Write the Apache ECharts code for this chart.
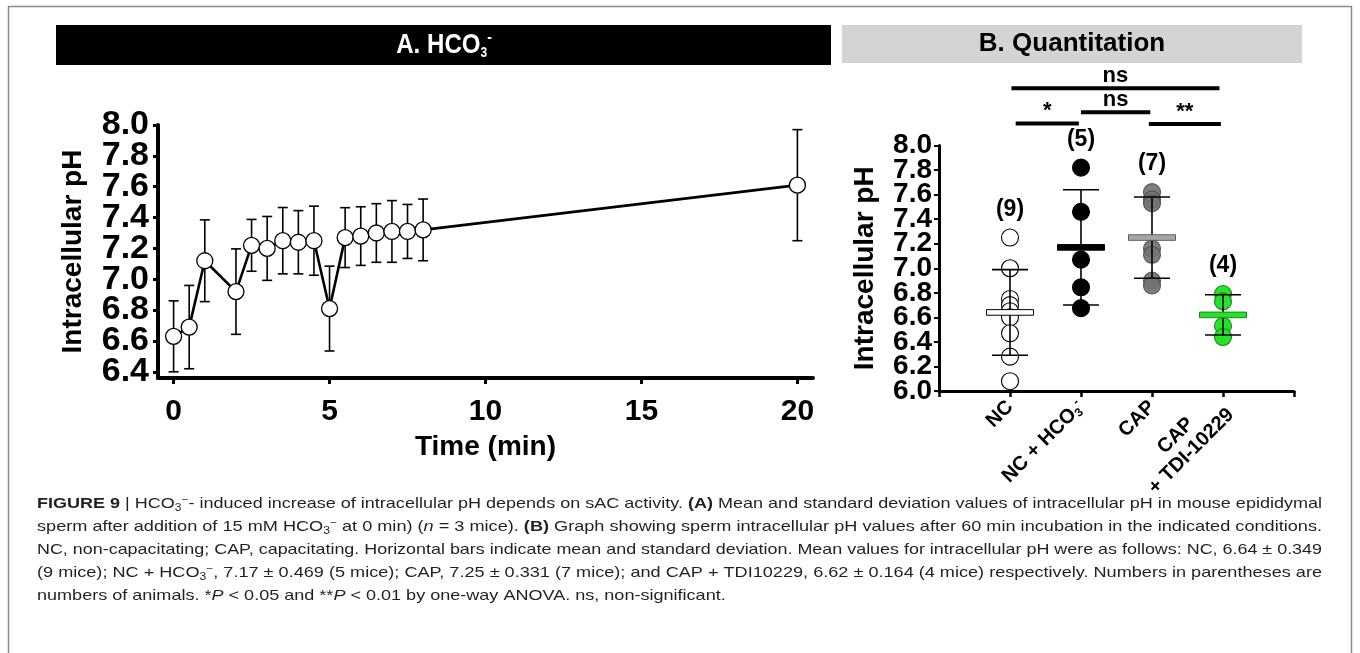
<!DOCTYPE html>
<html><head><meta charset="utf-8">
<script src="https://cdn.jsdelivr.net/npm/echarts@6/dist/echarts.min.js"></script>
<style>html,body{margin:0;padding:0;background:#fff}#c{width:1360px;height:653px}</style>
</head><body><div id="c"></div>
<script>
// ---------- Panel A data ----------
const timeMin = [0, 0.5, 1, 2, 2.5, 3, 3.5, 4, 4.5, 5, 5.5, 6, 6.5, 7, 7.5, 8, 20];
const meanPH  = [6.63, 6.69, 7.12, 6.92, 7.22, 7.20, 7.25, 7.24, 7.25, 6.81, 7.27, 7.28, 7.30, 7.31, 7.31, 7.32, 7.61];
const sdPH    = [0.23, 0.27, 0.265, 0.277, 0.168, 0.207, 0.215, 0.205, 0.224, 0.275, 0.194, 0.19, 0.19, 0.2, 0.175, 0.2, 0.36];
const leftYTicks = [6.4, 6.6, 6.8, 7.0, 7.2, 7.4, 7.6, 7.8, 8.0];
const leftXTicks = [0, 5, 10, 15, 20];

// ---------- Panel B data ----------
const groups = ['NC', 'NC + HCO3-', 'CAP', 'CAP\n+ TDI-10229'];
const ncValues   = [7.25, 7.0, 6.75, 6.7, 6.65, 6.6, 6.47, 6.28, 6.08];
const hco3Values = [7.82, 7.46, 7.07, 6.845, 6.675];
const capValues  = [7.62, 7.56, 7.53, 7.16, 7.11, 6.90, 6.86];
const tdiValues  = [6.79, 6.73, 6.53, 6.44];
const groupMeans  = [6.64, 7.17, 7.25, 6.62];
const groupSDs    = [0.349, 0.469, 0.331, 0.164];
const groupCounts = [9, 5, 7, 4];
const rightYTicks = [6.0, 6.2, 6.4, 6.6, 6.8, 7.0, 7.2, 7.4, 7.6, 7.8, 8.0];

// significance brackets (category units / pH units above the axis)
const bracketStart = [0.02, 1.0, 0.08, 1.955];
const bracketEnd   = [2.95, 1.976, 0.97, 2.97];
const bracketLevel = [8.466, 8.27, 8.18, 8.175];
const bracketText  = ['ns', 'ns', '*', '**'];

const FONT = '"Liberation Sans", Arial, Helvetica, sans-serif';
const groupValues = [ncValues, hco3Values, capValues, tdiValues];
const ptFill   = ['#ffffff', '#000000', '#737373', '#22e622'];
const ptStroke = ['#000000', '#000000', '#4d4d4d', '#2f7a2f'];
const barFill  = ['#ffffff', '#000000', '#a6a6a6', '#22e622'];
const barStroke= ['#000000', '#000000', '#5f5f5f', '#2f7a2f'];

const chart = echarts.init(document.getElementById('c'), null, {renderer: 'canvas'});

function errRender(capHalf, lw) {
  return function (params, api) {
    const x = api.value(0), m = api.value(1), s = api.value(2);
    const t = api.coord([x, m + s]), b = api.coord([x, m - s]);
    const st = {stroke: '#000', lineWidth: lw};
    return {type: 'group', children: [
      {type: 'line', shape: {x1: t[0], y1: t[1], x2: b[0], y2: b[1]}, style: st},
      {type: 'line', shape: {x1: t[0] - capHalf, y1: t[1], x2: t[0] + capHalf, y2: t[1]}, style: st},
      {type: 'line', shape: {x1: b[0] - capHalf, y1: b[1], x2: b[0] + capHalf, y2: b[1]}, style: st}
    ]};
  };
}

const series = [];
// Panel A
series.push({
  type: 'custom', xAxisIndex: 0, yAxisIndex: 0, z: 2,
  data: timeMin.map((t, i) => [t, meanPH[i], sdPH[i]]),
  encode: {x: 0, y: 1},
  renderItem: errRender(5, 1.6)
});
series.push({
  type: 'line', xAxisIndex: 0, yAxisIndex: 0, z: 3,
  data: timeMin.map((t, i) => [t, meanPH[i]]),
  symbol: 'circle', symbolSize: 16,
  itemStyle: {color: '#fff', borderColor: '#000', borderWidth: 1.3},
  lineStyle: {color: '#000', width: 2.6}
});
// Panel B points
groupValues.forEach((vals, g) => {
  series.push({
    type: 'scatter', xAxisIndex: 1, yAxisIndex: 1, z: 2,
    data: vals.map(v => [g, v]),
    symbol: 'circle', symbolSize: 17,
    itemStyle: {color: ptFill[g], borderColor: ptStroke[g], borderWidth: 1.1, opacity: g === 2 ? 0.92 : 1}
  });
});
// SD bars
series.push({
  type: 'custom', xAxisIndex: 1, yAxisIndex: 1, z: 3,
  data: groupMeans.map((m, i) => [i, m, groupSDs[i]]),
  encode: {x: 0, y: 1},
  renderItem: errRender(18, 1.6)
});
// mean bars
series.push({
  type: 'custom', xAxisIndex: 1, yAxisIndex: 1, z: 4,
  data: groupMeans.map((m, i) => [i, m]),
  encode: {x: 0, y: 1},
  renderItem: function (params, api) {
    const i = params.dataIndex;
    const c = api.coord([api.value(0), api.value(1)]);
    return {type: 'rect', shape: {x: c[0] - 23.5, y: c[1] - 2.8, width: 47, height: 5.6},
      style: {fill: barFill[i], stroke: barStroke[i], lineWidth: 1}};
  }
});
// counts
series.push({
  type: 'custom', xAxisIndex: 1, yAxisIndex: 1, z: 5, clip: false,
  data: groupValues.map((vals, i) => [i, Math.max(...vals), groupCounts[i]]),
  encode: {x: 0, y: 1},
  renderItem: function (params, api) {
    const c = api.coord([api.value(0), api.value(1)]);
    return {type: 'text', x: c[0], y: c[1] - 28,
      style: {text: '(' + api.value(2) + ')', font: 'bold 23px ' + FONT, fill: '#000', align: 'center', verticalAlign: 'middle'}};
  }
});
// brackets
series.push({
  type: 'custom', xAxisIndex: 2, yAxisIndex: 4, z: 5, clip: false,
  data: bracketStart.map((s, i) => [s, bracketEnd[i], bracketLevel[i]]),
  encode: {x: [0, 1], y: 2},
  renderItem: function (params, api) {
    const i = params.dataIndex;
    const p1 = api.coord([api.value(0), api.value(2)]);
    const p2 = api.coord([api.value(1), api.value(2)]);
    return {type: 'group', children: [
      {type: 'line', shape: {x1: p1[0], y1: p1[1], x2: p2[0], y2: p2[1]}, style: {stroke: '#000', lineWidth: 4}},
      {type: 'text', x: (p1[0] + p2[0]) / 2, y: p1[1] - 1,
        style: {text: bracketText[i], font: 'bold 22px ' + FONT, fill: '#000', align: 'center', verticalAlign: 'bottom'}}
    ]};
  }
});

// ---------- caption ----------
const captionLines = [
  [['b', 'FIGURE 9'], ['n', ' | HCO'], ['sub', '3'], ['sup', '−'], ['n', '- induced increase of intracellular pH depends on sAC activity. '], ['b', '(A)'], ['n', ' Mean and standard deviation values of intracellular pH in mouse epididymal']],
  [['n', 'sperm after addition of 15 mM HCO'], ['sub', '3'], ['sup', '−'], ['n', ' at 0 min) ('], ['i', 'n'], ['n', ' = 3 mice). '], ['b', '(B)'], ['n', ' Graph showing sperm intracellular pH values after 60 min incubation in the indicated conditions.']],
  [['n', 'NC, non-capacitating; CAP, capacitating. Horizontal bars indicate mean and standard deviation. Mean values for intracellular pH were as follows: NC, 6.64 ± 0.349']],
  [['n', '(9 mice); NC + HCO'], ['sub', '3'], ['sup', '−'], ['n', ', 7.17 ± 0.469 (5 mice); CAP, 7.25 ± 0.331 (7 mice); and CAP + TDI10229, 6.62 ± 0.164 (4 mice) respectively. Numbers in parentheses are']],
  [['n', 'numbers of animals. *'], ['i', 'P'], ['n', ' < 0.05 and **'], ['i', 'P'], ['n', ' < 0.01 by one-way ANOVA. ns, non-significant.']]
];
const capColor = '#231f20';
const capSize = 15, capSub = 10;
const capRich = {
  n: {fontSize: capSize, fontFamily: FONT, fill: capColor, lineHeight: 18},
  b: {fontSize: capSize, fontFamily: FONT, fill: capColor, fontWeight: 'bold', lineHeight: 18},
  i: {fontSize: capSize, fontFamily: FONT, fill: capColor, fontStyle: 'italic', lineHeight: 18},
  sub: {fontSize: capSub, fontFamily: FONT, fill: capColor, verticalAlign: 'bottom', lineHeight: 11},
  sup: {fontSize: capSub, fontFamily: FONT, fill: capColor, verticalAlign: 'top', lineHeight: 11}
};
const mctx = document.createElement('canvas').getContext('2d');
function fragFont(k) {
  if (k === 'b') return 'bold ' + capSize + 'px ' + FONT;
  if (k === 'i') return 'italic ' + capSize + 'px ' + FONT;
  if (k === 'sub' || k === 'sup') return capSub + 'px ' + FONT;
  return capSize + 'px ' + FONT;
}
const capLeft = 37, capRight = 1322, capTop = 504, capStep = 23;
const widths = captionLines.map(line => line.reduce((s, f) => { mctx.font = fragFont(f[0]); return s + mctx.measureText(f[1]).width; }, 0));
const scales = widths.map(w => (capRight - capLeft) / w);
const avgScale = scales.slice(0, 4).reduce((a, b) => a + b, 0) / 4;
const capGraphics = captionLines.map((line, li) => ({
  type: 'text', x: capLeft, y: capTop + li * capStep,
  scaleX: li < 4 ? scales[li] : avgScale,
  style: {
    text: line.map(f => '{' + f[0] + '|' + f[1] + '}').join(''),
    rich: capRich, verticalAlign: 'middle', align: 'left', fill: capColor, font: capSize + 'px ' + FONT
  }
}));

// split tick labels over two overlaid axes so tightly packed labels never collide
const evenOf = arr => arr.filter((v, i) => i % 2 === 0);
const oddOf = arr => arr.filter((v, i) => i % 2 === 1);
function yLabel(size, margin, values) {
  return {customValues: values, fontSize: size, fontWeight: 'bold', color: '#000', fontFamily: FONT, margin: margin,
    showMinLabel: true, showMaxLabel: true, hideOverlap: false, formatter: v => v.toFixed(1)};
}

const option = {
  animation: false,
  backgroundColor: '#fff',
  grid: [
    {left: 158, top: 125, width: 655, height: 253, outerBoundsMode: 'none'},
    {left: 939, top: 145.5, width: 355, height: 245.5, outerBoundsMode: 'none'},
    {left: 939, top: 59.6, width: 355, height: 85.9, outerBoundsMode: 'none'}
  ],
  xAxis: [
    {type: 'value', gridIndex: 0, min: -0.5, max: 20.5,
      axisLine: {onZero: false, lineStyle: {color: '#000', width: 4}},
      axisTick: {customValues: leftXTicks, length: 6, lineStyle: {color: '#000', width: 3}},
      axisLabel: {customValues: leftXTicks, fontSize: 30, fontWeight: 'bold', color: '#000', fontFamily: FONT, margin: 19,
        showMinLabel: true, showMaxLabel: true},
      splitLine: {show: false},
      name: 'Time (min)', nameLocation: 'middle', nameGap: 55,
      nameTextStyle: {fontSize: 28, fontWeight: 'bold', color: '#000', fontFamily: FONT}},
    {type: 'value', gridIndex: 1, min: -1, max: 4, interval: 1,
      axisLine: {onZero: false, lineStyle: {color: '#000', width: 3}},
      axisTick: {length: 6, lineStyle: {color: '#000', width: 2.5}},
      axisLabel: {customValues: [0, 1, 2, 3], rotate: 45, margin: 13, color: '#000',
        showMinLabel: true, showMaxLabel: true,
        formatter: function (v) {
          const name = groups[Math.round(v)];
          if (name === undefined) return '';
          if (name.indexOf('\n') >= 0) return name.split('\n').map(s => '{c|' + s + '}').join('\n');
          if (name.indexOf('HCO3-') >= 0) return '{a|' + name.replace('HCO3-', 'HCO') + '}{sub|3}{sup|-}';
          return '{a|' + name + '}';
        },
        rich: {
          a: {fontSize: 20, fontWeight: 'bold', fontFamily: FONT, color: '#000', lineHeight: 22},
          c: {fontSize: 20, fontWeight: 'bold', fontFamily: FONT, color: '#000', lineHeight: 22, align: 'center'},
          sub: {fontSize: 12, fontWeight: 'bold', fontFamily: FONT, color: '#000', lineHeight: 12, verticalAlign: 'bottom'},
          sup: {fontSize: 12, fontWeight: 'bold', fontFamily: FONT, color: '#000', lineHeight: 12, verticalAlign: 'top'}
        }},
      splitLine: {show: false}},
    {type: 'value', gridIndex: 2, min: -1, max: 4, show: false}
  ],
  yAxis: [
    {type: 'value', gridIndex: 0, min: 6.36, max: 8.0,
      axisLine: {show: true, onZero: false, lineStyle: {color: '#000', width: 4}},
      axisTick: {show: true, customValues: leftYTicks, length: 5, lineStyle: {color: '#000', width: 3}},
      axisLabel: yLabel(34, 9, evenOf(leftYTicks)),
      splitLine: {show: false},
      name: 'Intracellular pH', nameLocation: 'middle', nameGap: 71,
      nameTextStyle: {fontSize: 28, fontWeight: 'bold', color: '#000', fontFamily: FONT}},
    {type: 'value', gridIndex: 1, min: 6.0, max: 8.0,
      axisLine: {show: true, onZero: false, lineStyle: {color: '#000', width: 3}},
      axisTick: {show: true, customValues: rightYTicks, length: 5, lineStyle: {color: '#000', width: 2}},
      axisLabel: yLabel(28, 7, evenOf(rightYTicks)),
      splitLine: {show: false},
      name: 'Intracellular pH', nameLocation: 'middle', nameGap: 60,
      nameTextStyle: {fontSize: 28, fontWeight: 'bold', color: '#000', fontFamily: FONT}},
    {type: 'value', gridIndex: 0, min: 6.36, max: 8.0, position: 'left',
      axisLine: {show: false, onZero: false}, axisTick: {show: false}, splitLine: {show: false},
      axisLabel: yLabel(34, 9, oddOf(leftYTicks))},
    {type: 'value', gridIndex: 1, min: 6.0, max: 8.0, position: 'left',
      axisLine: {show: false, onZero: false}, axisTick: {show: false}, splitLine: {show: false},
      axisLabel: yLabel(28, 7, oddOf(rightYTicks))},
    {type: 'value', gridIndex: 2, min: 8.0, max: 8.7, show: false}
  ],
  graphic: [
    {type: 'rect', shape: {x: 8.5, y: 6.5, width: 1343, height: 720}, style: {fill: 'none', stroke: '#8a8a8a', lineWidth: 1.5}, silent: true},
    {type: 'rect', shape: {x: 56, y: 25, width: 775, height: 40}, style: {fill: '#000'}, silent: true},
    {type: 'rect', shape: {x: 842, y: 25, width: 460, height: 38}, style: {fill: '#d4d4d4'}, silent: true},
    {type: 'text', x: 444, y: 45, scaleX: 0.86,
      style: {text: '{m|A. HCO}{s|3}{p|-}', align: 'center', verticalAlign: 'middle', fill: '#fff',
        rich: {
          m: {fontSize: 28, fontWeight: 'bold', fontFamily: FONT, fill: '#fff', lineHeight: 30},
          s: {fontSize: 14, fontWeight: 'bold', fontFamily: FONT, fill: '#fff', lineHeight: 14, verticalAlign: 'bottom'},
          p: {fontSize: 16, fontWeight: 'bold', fontFamily: FONT, fill: '#fff', lineHeight: 16, verticalAlign: 'top'}
        }}},
    {type: 'text', x: 1072, y: 44,
      style: {text: 'B. Quantitation', font: 'bold 26px ' + FONT, fill: '#000', align: 'center', verticalAlign: 'middle'}}
  ].concat(capGraphics),
  series: series
};
chart.setOption(option);
</script>
</body></html>
